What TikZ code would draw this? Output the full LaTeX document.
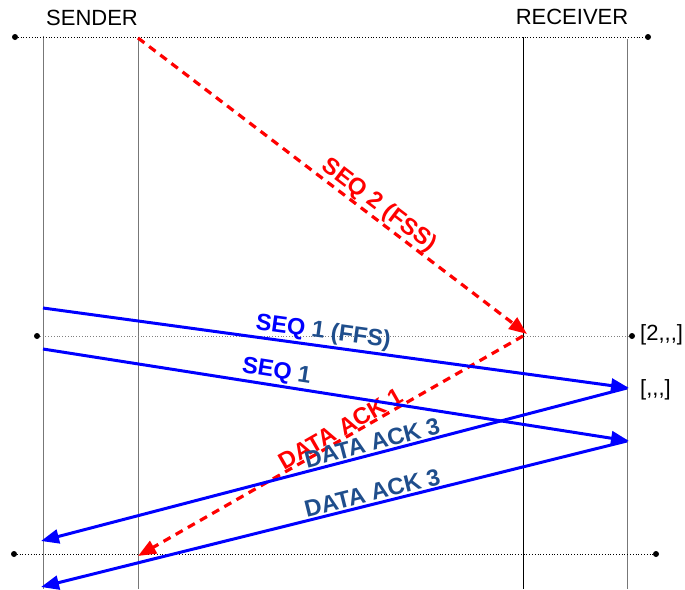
\documentclass[tikz,border=0pt]{standalone}
\usepackage{fontspec}
\setmainfont{Liberation Sans}
\usetikzlibrary{arrows.meta}
\definecolor{lblblue}{HTML}{1F4E8C}
\definecolor{lifegray}{HTML}{777777}
\tikzset{
  life/.style={line width=1pt},
  dotline/.style={line width=0.8pt, dotted},
  blueArrow/.style={line width=3pt, blue, -{Triangle[length=18pt,width=14pt]}},
  redArrow/.style={line width=3.2pt, red, dash pattern=on 8pt off 6pt, -{Triangle[length=18pt,width=14pt]}},
  lbl/.style={font=\fontsize{23.5}{26}\selectfont\bfseries, sloped, above, inner sep=1.5pt},
  side/.style={font=\fontsize{22}{26}\selectfont, inner sep=0pt},
}
\begin{document}
\begin{tikzpicture}[x=1pt,y=-1pt]
\useasboundingbox (0,0) rectangle (685,589);
% life lines
\coordinate (l1t) at (43,36);  \coordinate (l1b) at (43,589);
\coordinate (l2t) at (138,38); \coordinate (l2b) at (138,589);
\coordinate (l3t) at (523,37); \coordinate (l3b) at (523,589);
\coordinate (l4t) at (627,39); \coordinate (l4b) at (627,589);
\draw[life, lifegray] (l1t) -- (l1b);
\draw[life, lifegray] (l2t) -- (l2b);
\draw[life, black] (l3t) -- (l3b);
\draw[life, lifegray] (l4t) -- (l4b);
% dotted time lines
\coordinate (d1l) at (15,37);  \coordinate (d1r) at (648,37);
\coordinate (d2l) at (37,336); \coordinate (d2r) at (632,336);
\coordinate (d3l) at (14,554); \coordinate (d3r) at (656,554);
\draw[dotline] (d1l) -- (d1r);
\draw[dotline, gray] (d2l) -- (d2r);
\draw[dotline] (d3l) -- (d3r);
\foreach \p in {d1l,d1r,d2l,d2r,d3l,d3r} \fill (\p) circle (3);
% headers
\node[side] (snd) at (92,18) {SENDER};
\node[side] (rcv) at (572,17) {RECEIVER};
\node[side, anchor=west] (st1) at (640,335) {[2{,}{,}{,}]};
\node[side, anchor=west] (st2) at (640,390) {[{,}{,}{,}]};
% arrow endpoints
\coordinate (r1s) at (138,38);  \coordinate (r1e) at (527,334);
\coordinate (r2s) at (523,336); \coordinate (r2e) at (138,556);
\coordinate (b1s) at (43,308);  \coordinate (b1e) at (629,388);
\coordinate (b2s) at (43,349);  \coordinate (b2e) at (629,441);
\coordinate (b3s) at (627,388); \coordinate (b3e) at (41,541);
\coordinate (b4s) at (627,441); \coordinate (b4e) at (41,587);
% red arrows
\draw[redArrow] (r1s) -- node[lbl, red, pos=0.6, inner sep=0pt] {SEQ 2 (FSS)} (r1e);
\draw[redArrow] (r2s) -- node[lbl, red, pos=0.46, inner sep=0pt] {DATA ACK 1} (r2e);
% blue arrows
\draw[blueArrow] (b1s) -- node[lbl, pos=0.475] {\textcolor{blue}{SEQ} \textcolor{lblblue}{1 (FFS)}} (b1e);
\draw[blueArrow] (b2s) -- node[lbl, pos=0.395] {\textcolor{blue}{SEQ} \textcolor{lblblue}{1}} (b2e);
\draw[blueArrow] (b3s) -- node[lbl, lblblue, pos=0.43] {DATA ACK 3} (b3e);
\draw[blueArrow] (b4s) -- node[lbl, lblblue, pos=0.43] {DATA ACK 3} (b4e);
\end{tikzpicture}
\end{document}
